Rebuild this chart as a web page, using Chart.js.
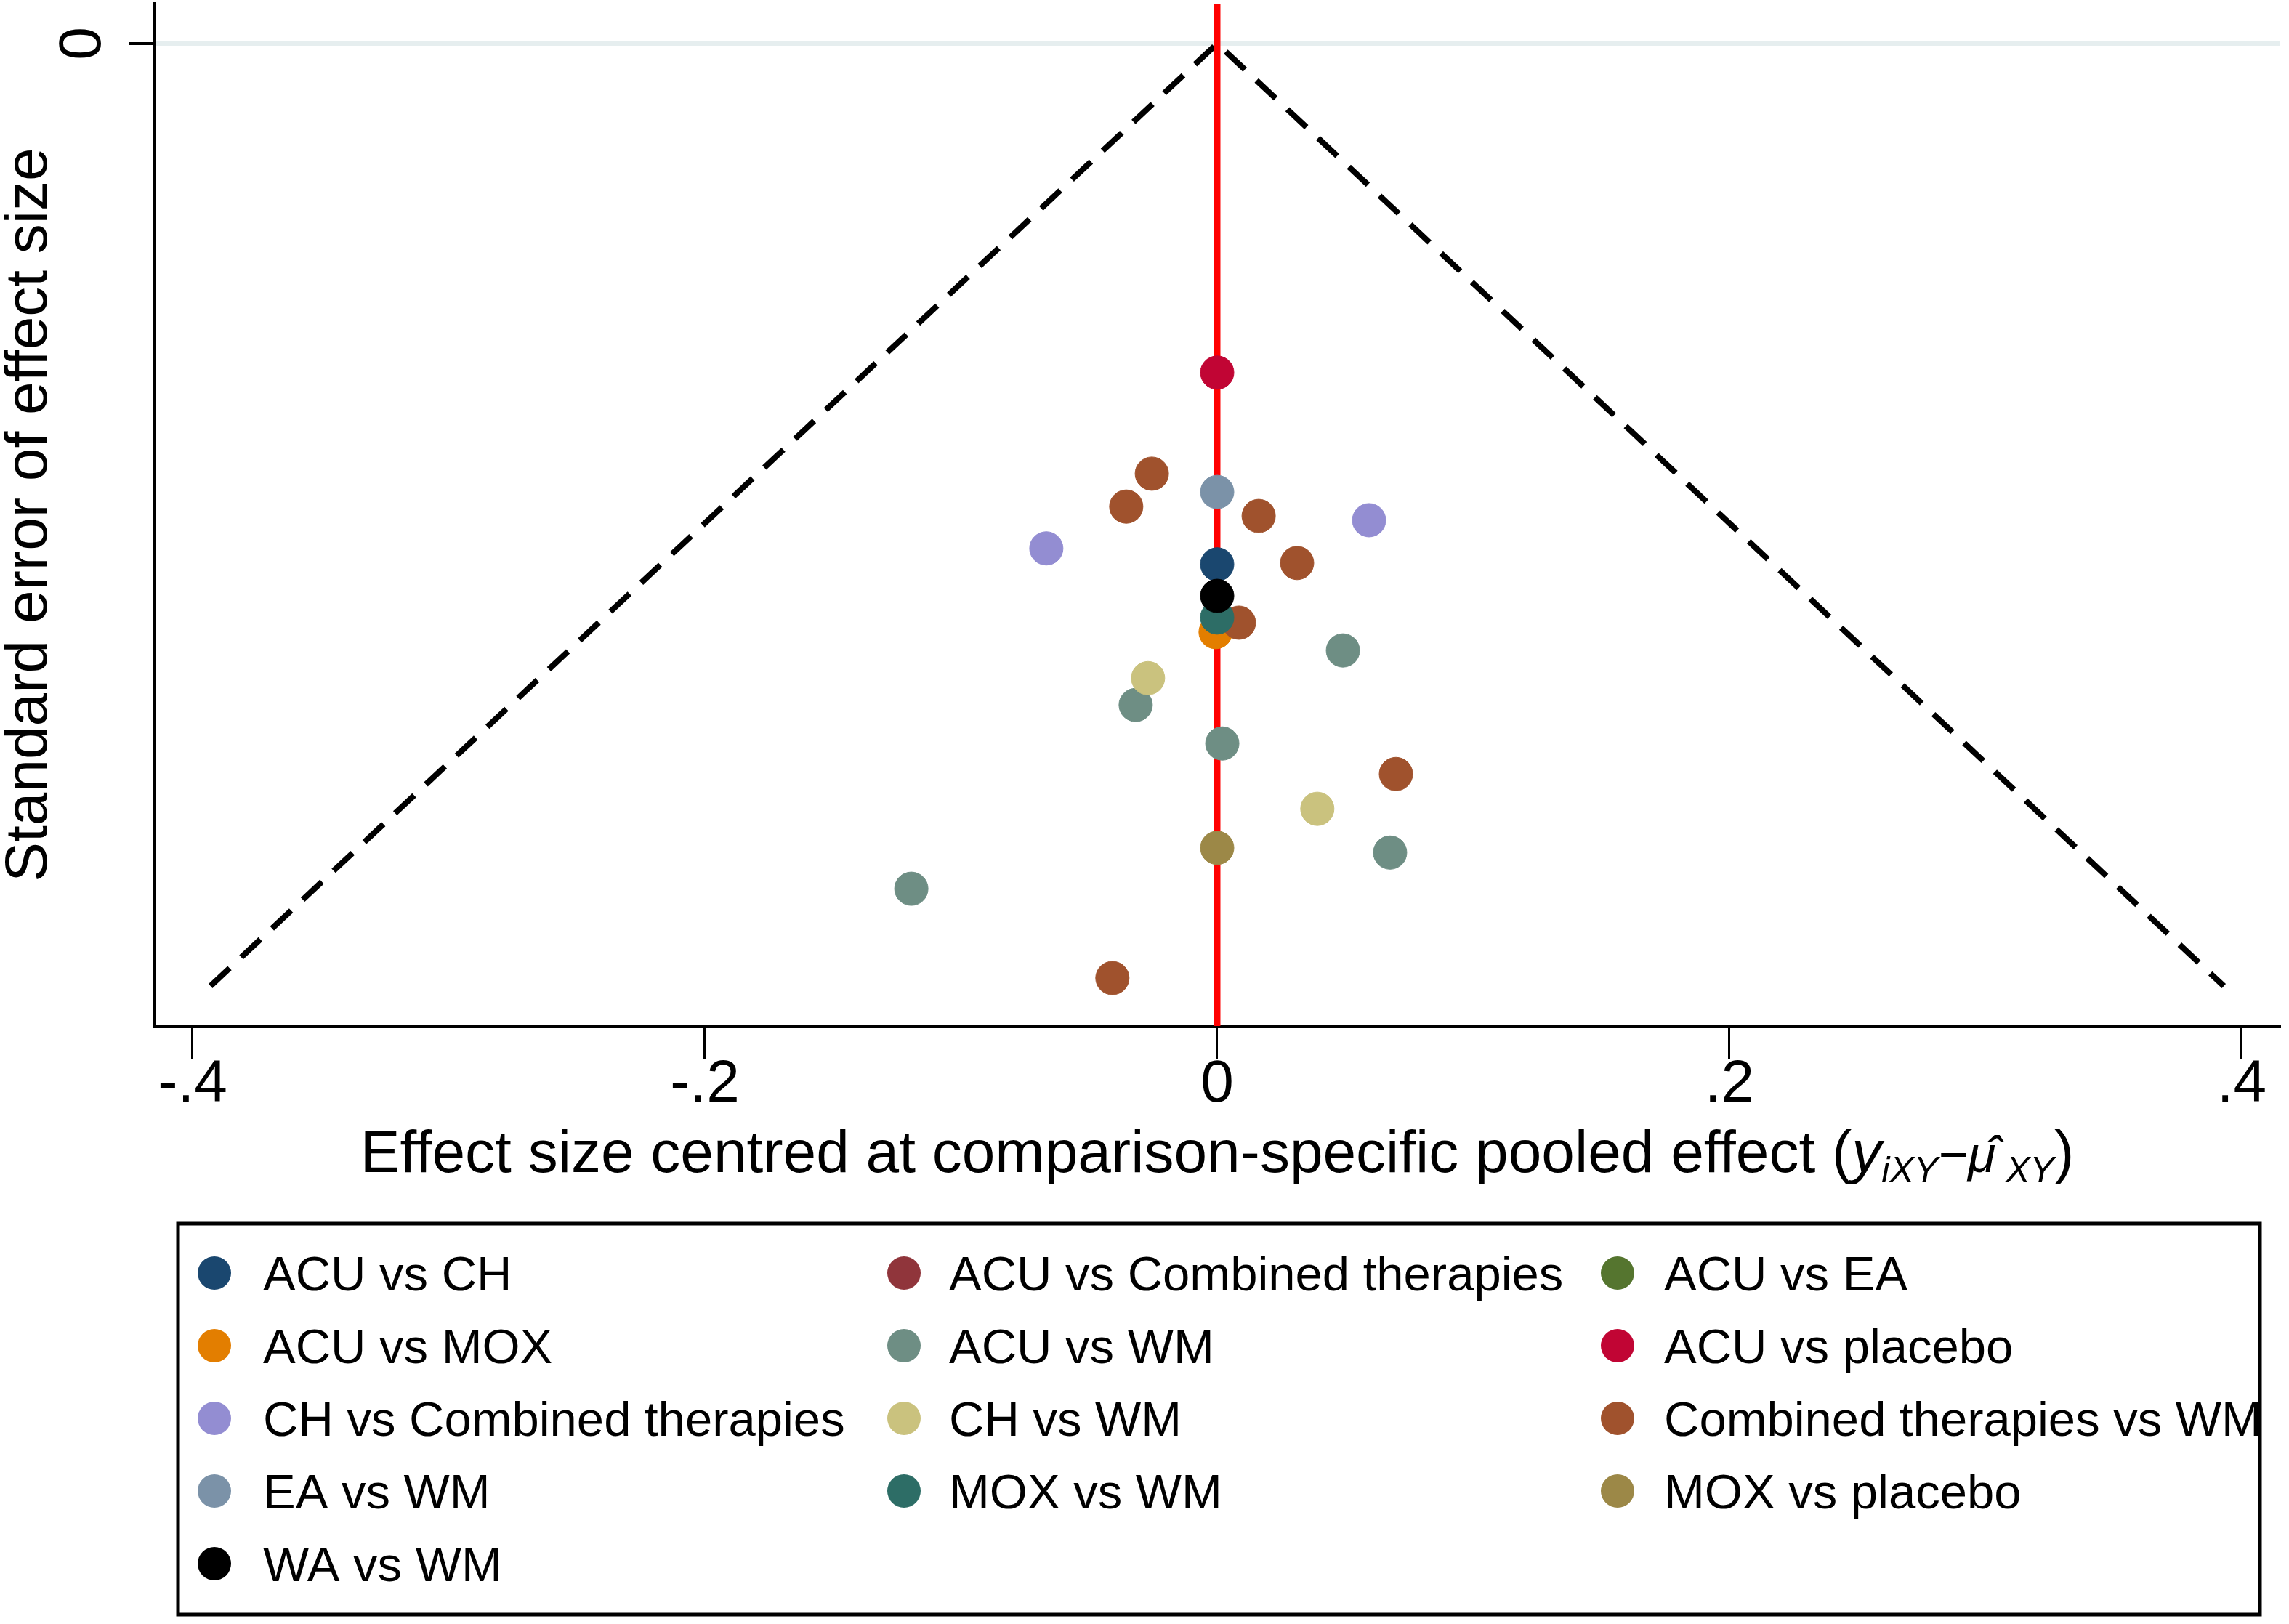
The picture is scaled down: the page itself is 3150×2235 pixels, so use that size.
<!DOCTYPE html>
<html>
<head>
<meta charset="utf-8">
<script src="https://cdn.jsdelivr.net/npm/chart.js@4.4.1/dist/chart.umd.min.js"></script>
<style>
html,body{margin:0;padding:0;background:#ffffff;}
canvas{display:block;}
</style>
</head>
<body>
<canvas id="c" width="3150" height="2235" style="width:3150px;height:2235px"></canvas>
<script>
// ---------------- DATA ----------------
const seriesNames = [
  "ACU vs CH", "ACU vs Combined therapies", "ACU vs EA",
  "ACU vs MOX", "ACU vs WM", "ACU vs placebo",
  "CH vs Combined therapies", "CH vs WM", "Combined therapies vs WM",
  "EA vs WM", "MOX vs WM", "MOX vs placebo",
  "WA vs WM"
];

// effect size centred (x) and standard error (y) per comparison
const acuVsCH_x = [0.000];              const acuVsCH_se = [0.1108];
const acuVsCombined_x = [];             const acuVsCombined_se = [];
const acuVsEA_x = [];                   const acuVsEA_se = [];
const acuVsMOX_x = [-0.0006];           const acuVsMOX_se = [0.1252];
const acuVsWM_x = [0.0491, -0.0318, 0.0020, 0.0675, -0.1194];
const acuVsWM_se = [0.1291, 0.1407, 0.1489, 0.1721, 0.1798];
const acuVsPlacebo_x = [0.000];         const acuVsPlacebo_se = [0.0700];
const chVsCombined_x = [0.0593, -0.0667];
const chVsCombined_se = [0.1014, 0.1074];
const chVsWM_x = [-0.0270, 0.0391];     const chVsWM_se = [0.1350, 0.1628];
const combinedVsWM_x = [-0.0255, -0.0355, 0.0162, 0.0312, 0.0085, 0.0698, -0.0409];
const combinedVsWM_se = [0.0915, 0.0985, 0.1005, 0.1105, 0.1232, 0.1554, 0.1988];
const eaVsWM_x = [0.000];               const eaVsWM_se = [0.0954];
const moxVsWM_x = [0.000];              const moxVsWM_se = [0.1221];
const moxVsPlacebo_x = [0.000];         const moxVsPlacebo_se = [0.1711];
const waVsWM_x = [0.000];               const waVsWM_se = [0.1175];

// pseudo 95% confidence limits (funnel) and null line
const funnelX = [-0.3930, 0, 0.3930];
const funnelSE = [0.2005, 0, 0.2005];

// axis ticks
const xTickValues = [-0.4, -0.2, 0, 0.2, 0.4];
const xTickLabels = ["-.4", "-.2", "0", ".2", ".4"];
const yTickValues = [0];
const yTickLabels = ["0"];

const xMin = -0.41475, xMax = 0.41504;
const yMin = -0.0085, yMax = 0.2090;

// ---------------- STYLE ----------------
const seriesColors = [
  "#1a476f", "#90353b", "#55752f",
  "#e37e00", "#6e8e84", "#c10534",
  "#938dd2", "#cac27e", "#a0522d",
  "#7b92a8", "#2d6d66", "#9c8847",
  "#000000"
];
const FONT = "'Liberation Sans', Arial, sans-serif";

const seriesX = [acuVsCH_x, acuVsCombined_x, acuVsEA_x, acuVsMOX_x, acuVsWM_x, acuVsPlacebo_x,
  chVsCombined_x, chVsWM_x, combinedVsWM_x, eaVsWM_x, moxVsWM_x, moxVsPlacebo_x, waVsWM_x];
const seriesSE = [acuVsCH_se, acuVsCombined_se, acuVsEA_se, acuVsMOX_se, acuVsWM_se, acuVsPlacebo_se,
  chVsCombined_se, chVsWM_se, combinedVsWM_se, eaVsWM_se, moxVsWM_se, moxVsPlacebo_se, waVsWM_se];

const datasets = seriesNames.map((name, i) => ({
  label: name,
  data: seriesX[i].map((x, j) => ({x: x, y: seriesSE[i][j]})),
  backgroundColor: seriesColors[i],
  borderColor: seriesColors[i],
  borderWidth: 1,
  pointRadius: 23,
  pointHoverRadius: 23,
  showLine: false,
  order: -i,
  isSeries: true
}));

datasets.push({
  label: "funnel",
  data: funnelX.map((x, j) => ({x: x, y: funnelSE[j]})),
  showLine: true,
  borderColor: "#000000",
  borderWidth: 8,
  borderDash: [36, 22],
  pointRadius: 0,
  fill: false,
  tension: 0,
  order: 200
});
datasets.push({
  label: "null",
  data: [{x: 0, y: yMin}, {x: 0, y: yMax}],
  showLine: true,
  borderColor: "#ff0000",
  borderWidth: 9,
  pointRadius: 0,
  fill: false,
  order: 100
});

const extrasPlugin = {
  id: 'extras',
  afterDraw(chart) {
    const ctx = chart.ctx;
    const ys = chart.scales.y, xs = chart.scales.x;
    ctx.save();
    ctx.fillStyle = "#000";
    // rotated y tick label
    yTickValues.forEach((v, i) => {
      ctx.save();
      ctx.translate(138, ys.getPixelForValue(v));
      ctx.rotate(-Math.PI / 2);
      ctx.font = "82px " + FONT;
      ctx.textAlign = "center";
      ctx.textBaseline = "alphabetic";
      ctx.fillText(yTickLabels[i], 0, 0);
      ctx.restore();
    });
    // x axis title with sub-scripts
    const parts = [
      {t: "Effect size centred at comparison-specific pooled effect (", f: "82px " + FONT, dy: 0},
      {t: "y", f: "italic 82px " + FONT, dy: 0},
      {t: "iXY", f: "italic 50px " + FONT, dy: 14},
      {t: "\u2212\u03bc\u0302", f: "italic 70px " + FONT, dy: 0},
      {t: " XY", f: "italic 50px " + FONT, dy: 14},
      {t: ")", f: "82px " + FONT, dy: 0}
    ];
    let total = 0;
    parts.forEach(p => { ctx.font = p.f; p.w = ctx.measureText(p.t).width; total += p.w; });
    let cx = xs.getPixelForValue(0) - total / 2;
    const base = 1613;
    ctx.textAlign = "left";
    ctx.textBaseline = "alphabetic";
    parts.forEach(p => { ctx.font = p.f; ctx.fillText(p.t, cx, base + p.dy); cx += p.w; });

    // legend
    ctx.lineWidth = 5;
    ctx.strokeStyle = "#000";
    ctx.strokeRect(245, 1684, 2865, 538);
    const colDot = [295, 1244, 2226];
    const colText = [362, 1306, 2290];
    ctx.font = "67px " + FONT;
    chart.data.datasets.forEach((ds, i) => {
      if (!ds.isSeries) return;
      const r = Math.floor(i / 3), c = i % 3;
      const yy = 1752 + r * 100;
      ctx.beginPath();
      ctx.fillStyle = ds.backgroundColor;
      ctx.arc(colDot[c], yy, 23, 0, Math.PI * 2);
      ctx.fill();
      ctx.fillStyle = "#000";
      ctx.fillText(ds.label, colText[c], yy + 24);
    });
    ctx.restore();
  }
};

new Chart(document.getElementById('c'), {
  type: 'scatter',
  data: {datasets: datasets},
  plugins: [extrasPlugin],
  options: {
    responsive: false,
    animation: false,
    devicePixelRatio: 1,
    layout: {autoPadding: false, padding: {top: 5, right: 12, bottom: 0, left: 0}},
    plugins: {legend: {display: false}, tooltip: {enabled: false}, title: {display: false}},
    scales: {
      x: {
        type: 'linear',
        min: xMin, max: xMax,
        afterBuildTicks: s => { s.ticks = xTickValues.map(v => ({value: v})); },
        afterFit: s => { s.height = 823; s.paddingLeft = 0; s.paddingRight = 0; },
        ticks: {
          callback: (v) => { const k = xTickValues.indexOf(v); return k >= 0 ? xTickLabels[k] : ''; },
          font: {family: FONT, size: 82, lineHeight: 1},
          color: "#000",
          padding: -5,
          maxRotation: 0, minRotation: 0
        },
        grid: {drawOnChartArea: false, drawTicks: true, tickLength: 45, tickColor: "#000", tickWidth: 3},
        border: {display: true, color: "#000", width: 5},
        title: {display: false}
      },
      y: {
        type: 'linear',
        reverse: true,
        min: yMin, max: yMax,
        afterBuildTicks: s => { s.ticks = yTickValues.map(v => ({value: v})); },
        afterFit: s => { s.width = 213; s.paddingTop = 0; s.paddingBottom = 0; },
        ticks: {display: false},
        grid: {drawOnChartArea: true, color: "#e6eeef", lineWidth: 6, drawTicks: true,
               tickLength: 36, tickColor: "#000", tickWidth: 4},
        border: {display: true, color: "#000", width: 4},
        title: {
          display: true,
          text: "Standard error of effect size",
          color: "#000",
          font: {family: FONT, size: 82, lineHeight: 1},
          padding: 0
        }
      }
    }
  }
});
</script>
</body>
</html>
